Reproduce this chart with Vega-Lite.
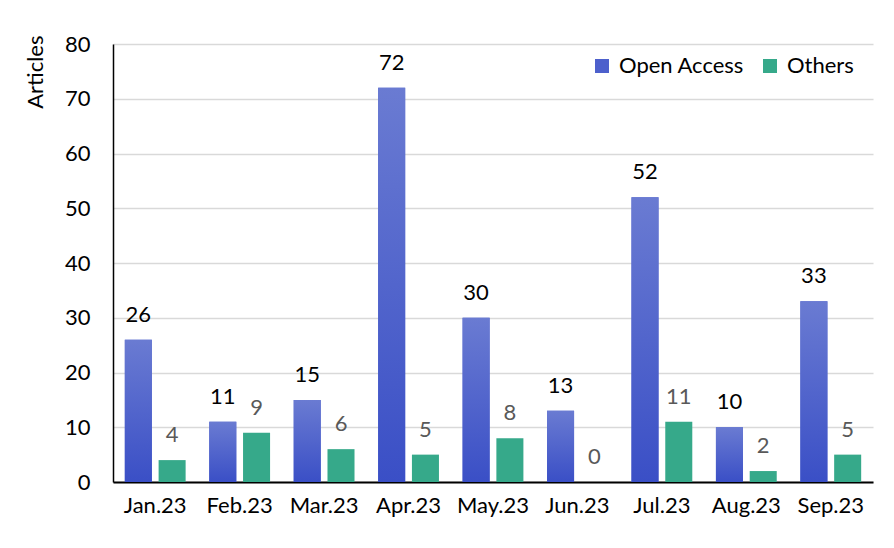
{
  "$schema": "https://vega.github.io/schema/vega-lite/v6.json",
  "width": 760,
  "height": 438,
  "autosize": {"type": "none"},
  "padding": {"left": 113, "top": 44, "right": 21, "bottom": 66},
  "background": "white",
  "config": {
    "font": "Lato",
    "view": {"stroke": null},
    "axis": {"labelFont": "Lato", "titleFont": "Lato"},
    "legend": {"labelFont": "Lato"}
  },
  "data": {
    "values": [
      {"month": "Jan.23", "series": "Open Access", "articles": 26},
      {"month": "Jan.23", "series": "Others", "articles": 4},
      {"month": "Feb.23", "series": "Open Access", "articles": 11},
      {"month": "Feb.23", "series": "Others", "articles": 9},
      {"month": "Mar.23", "series": "Open Access", "articles": 15},
      {"month": "Mar.23", "series": "Others", "articles": 6},
      {"month": "Apr.23", "series": "Open Access", "articles": 72},
      {"month": "Apr.23", "series": "Others", "articles": 5},
      {"month": "May.23", "series": "Open Access", "articles": 30},
      {"month": "May.23", "series": "Others", "articles": 8},
      {"month": "Jun.23", "series": "Open Access", "articles": 13},
      {"month": "Jun.23", "series": "Others", "articles": 0},
      {"month": "Jul.23", "series": "Open Access", "articles": 52},
      {"month": "Jul.23", "series": "Others", "articles": 11},
      {"month": "Aug.23", "series": "Open Access", "articles": 10},
      {"month": "Aug.23", "series": "Others", "articles": 2},
      {"month": "Sep.23", "series": "Open Access", "articles": 33},
      {"month": "Sep.23", "series": "Others", "articles": 5}
    ]
  },
  "encoding": {
    "x": {
      "field": "month",
      "type": "nominal",
      "sort": null,
      "scale": {"paddingInner": 0.28, "paddingOuter": 0.14},
      "axis": {
        "title": null,
        "labelAngle": 0,
        "labelFontSize": 22,
        "labelColor": "#000000",
        "labelPadding": 13,
        "ticks": false,
        "domainColor": "#000000",
        "domainWidth": 2,
        "grid": false
      }
    },
    "xOffset": {
      "field": "series",
      "type": "nominal",
      "scale": {"domain": ["Open Access", "Others"], "paddingInner": 0.2, "paddingOuter": 0}
    },
    "y": {
      "field": "articles",
      "type": "quantitative",
      "scale": {"domain": [0, 80], "nice": false},
      "axis": {
        "title": "Articles",
        "titleFontSize": 22,
        "titleFontWeight": "normal",
        "titleColor": "#000000",
        "titleAngle": -90,
        "titleAlign": "right",
        "titleBaseline": "middle",
        "titleX": -78,
        "titleY": -9,
        "values": [0, 10, 20, 30, 40, 50, 60, 70, 80],
        "labelFontSize": 22,
        "labelColor": "#000000",
        "labelPadding": 23,
        "ticks": false,
        "domainColor": "#000000",
        "domainWidth": 1.5,
        "grid": true,
        "gridColor": "#d9d9d9",
        "gridWidth": 1.5
      }
    }
  },
  "layer": [
    {
      "mark": {"type": "bar"},
      "encoding": {
        "color": {
          "field": "series",
          "type": "nominal",
          "scale": {"domain": ["Open Access", "Others"], "range": ["#4d60cc", "#36a98a"]},
          "legend": {
            "title": null,
            "orient": "none",
            "direction": "horizontal",
            "legendX": 478,
            "legendY": 11,
            "symbolType": "square",
            "symbolSize": 196,
            "symbolStrokeWidth": 0,
            "labelFontSize": 22,
            "labelColor": "#000000",
            "labelOffset": 6,
            "columnPadding": 14
          }
        }
      }
    },
    {
      "transform": [{"filter": "datum.series === 'Open Access'"}],
      "mark": {
        "type": "bar",
        "fill": {
          "gradient": "linear",
          "x1": 0, "y1": 0, "x2": 0, "y2": 1,
          "stops": [
            {"offset": 0, "color": "#6a7bd2"},
            {"offset": 1, "color": "#3a4fc6"}
          ]
        }
      }
    },
    {
      "mark": {"type": "text", "baseline": "middle", "dy": -25, "fontSize": 22, "font": "Lato"},
      "encoding": {
        "text": {"field": "articles", "type": "quantitative"},
        "color": {
          "condition": {"test": "datum.series === 'Others'", "value": "#595959"},
          "value": "#000000"
        }
      }
    }
  ]
}
